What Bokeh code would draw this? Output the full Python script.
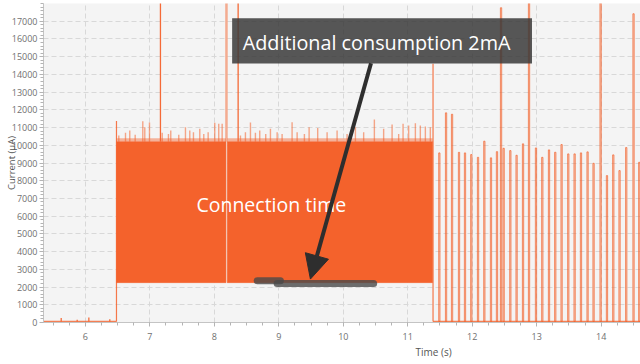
import numpy as np
from bokeh.plotting import figure
from bokeh.models import FixedTicker, Range1d, Title, Arrow, NormalHead, Label
from bokeh.embed import file_html
from bokeh.resources import INLINE

# ---------------- data ----------------
x_ticks = [6, 7, 8, 9, 10, 11, 12, 13, 14]
y_ticks = list(range(0, 18000, 1000))

baseline_uA = 60

pre_spike_t = [5.625, 5.873, 6.053, 6.378]
pre_spike_uA = [250, 150, 280, 190]

rise_t = 6.482
rise_peak_uA = 11370

block_start = [6.482, 8.200]
block_end = [8.180, 11.385]
block_low_uA = [2250, 2250]
block_high_uA = [10200, 10200]
block_noise_top_uA = [10400, 10400]

block_spike_t = [6.518, 6.622, 6.688, 6.772, 6.890, 6.921, 6.994, 7.191, 7.288, 7.324,
                 7.448, 7.552, 7.619, 7.676, 7.774, 7.836, 7.904, 8.006, 8.068, 8.121,
                 8.405, 8.482, 8.560, 8.637, 8.704, 8.797, 8.870, 8.974, 9.051, 9.206,
                 9.284, 9.397, 9.470, 9.603, 9.749, 9.904, 10.059, 10.188, 10.316, 10.482,
                 10.626, 10.757, 10.859, 10.927, 11.014, 11.118, 11.195, 11.273, 11.350]
block_spike_uA = [10550, 10700, 10830, 10590, 11360, 11020, 11280, 10700, 10640, 10830,
                  10590, 11020, 10830, 10730, 10930, 10640, 10730, 11270, 11210, 11210,
                  10550, 10730, 11280, 10700, 10830, 10640, 10930, 10730, 10640, 11300,
                  10730, 10640, 11020, 10980, 10730, 10830, 10640, 11020, 10730, 11450,
                  10930, 11170, 10640, 11210, 11110, 11240, 11110, 11060, 11020]

tall_spike_t = [7.164, 8.369]
tall_spike_uA = [19000, 19000]
pale_spike_t = [8.188]
pale_spike_uA = [19000]

fall_t = 11.392
fall_peak_uA = 14600

post_spike_t = [11.490, 11.594, 11.687, 11.795, 11.888, 11.986, 12.090, 12.188, 12.291, 12.384,
                12.447, 12.487, 12.591, 12.688, 12.788, 12.881, 12.989, 13.087, 13.191, 13.288,
                13.386, 13.490, 13.588, 13.687, 13.789, 13.882, 13.991, 14.090, 14.188, 14.285,
                14.389, 14.502, 14.591]
post_spike_uA = [9570, 11830, 11750, 9600, 9570, 9475, 9320, 10230, 9290, 9640,
                 17760, 9830, 9700, 9435, 10080, 19000, 9850, 9320, 9740, 9605,
                 10040, 9514, 9514, 9571, 9627, 8983, 19000, 8288, 9458, 8571,
                 9870, 17420, 9040]

# annotation anchors (time s, current uA)
note_text = "Additional consumption 2mA"
note_box = dict(left=8.276, right=12.927, bottom=14610, top=17170)
note_text_at = (8.440, 15780)
conn_text = "Connection time"
conn_text_at = (7.722, 6650)
arrow_from = (10.43, 14630)
arrow_to = (9.49, 2451)
mark_a = ([8.664, 9.025], [2355, 2355])
mark_b = ([8.974, 10.471], [2203, 2203])

# ---------------- figure ----------------
X0, X1 = 5.35, 14.61
ORANGE = "#f4622c"
FONT = "Open Sans"

p = figure(width=640, height=364, x_range=Range1d(X0, X1), y_range=Range1d(0, 18000),
           output_backend="svg", toolbar_location=None,
           min_border_left=43, min_border_right=0, min_border_top=3, min_border_bottom=42,
           background_fill_color="#f4f4f4", border_fill_color="white",
           outline_line_color=None)

# axes
p.xaxis.ticker = FixedTicker(ticks=x_ticks, minor_ticks=list(np.arange(5.25, 14.76, 0.25)))
p.yaxis.ticker = FixedTicker(ticks=y_ticks, minor_ticks=list(range(0, 18001, 200)))
for ax in (p.xaxis, p.yaxis):
    ax.axis_line_color = "#c4c4c4"
    ax.major_tick_line_color = "#b4b4b4"
    ax.minor_tick_line_color = "#b4b4b4"
    ax.major_tick_out = 4
    ax.major_tick_in = 0
    ax.minor_tick_out = 3
    ax.minor_tick_in = 0
    ax.major_label_text_font = FONT
    ax.major_label_text_font_size = "9px"
    ax.major_label_text_color = "#707070"
p.xaxis.major_label_standoff = 6
p.yaxis.major_label_standoff = 2
p.yaxis.axis_label = "Current (µA)"
p.yaxis.axis_label_text_font = FONT
p.yaxis.axis_label_text_font_size = "9.5px"
p.yaxis.axis_label_text_font_style = "normal"
p.yaxis.axis_label_text_color = "#555555"
p.yaxis.axis_label_standoff = -9

p.add_layout(Title(text="Time (s)", align="left", offset=372, standoff=0,
                   text_font=FONT, text_font_size="10px", text_font_style="normal",
                   text_color="#555555"), "below")

p.xgrid.grid_line_color = "#d8d8d8"
p.ygrid.grid_line_color = "#d8d8d8"
p.grid.grid_line_dash = "5 3"

# ---------------- trace ----------------
p.segment(x0=[X0, fall_t], y0=[baseline_uA] * 2, x1=[rise_t, X1], y1=[baseline_uA] * 2,
          line_color=ORANGE, line_width=1.5, line_alpha=0.8)
p.segment(x0=pre_spike_t, y0=[baseline_uA] * len(pre_spike_t), x1=pre_spike_t, y1=pre_spike_uA,
          line_color=ORANGE, line_width=1.5, line_alpha=0.8)
p.quad(left=block_start, right=block_end, bottom=block_low_uA, top=block_high_uA,
       fill_color=ORANGE, line_color=ORANGE, line_width=0.5)
p.quad(left=block_start, right=block_end, bottom=block_high_uA, top=block_noise_top_uA,
       fill_color=ORANGE, fill_alpha=0.45, line_color=None)
p.segment(x0=[rise_t, fall_t], y0=[baseline_uA] * 2, x1=[rise_t, fall_t], y1=[rise_peak_uA, fall_peak_uA],
          line_color=ORANGE, line_width=1.2, line_alpha=0.85)
p.segment(x0=block_spike_t, y0=[block_high_uA[0]] * len(block_spike_t), x1=block_spike_t,
          y1=block_spike_uA, line_color=ORANGE, line_width=1.4, line_alpha=0.55)
p.segment(x0=tall_spike_t, y0=[block_high_uA[0]] * len(tall_spike_t), x1=tall_spike_t,
          y1=tall_spike_uA, line_color=ORANGE, line_width=1.3, line_alpha=0.95)
p.segment(x0=pale_spike_t, y0=[block_high_uA[0]] * len(pale_spike_t), x1=pale_spike_t,
          y1=pale_spike_uA, line_color=ORANGE, line_width=2.5, line_alpha=0.5)
half_w = 0.01
p.quad(left=[t - half_w for t in post_spike_t], right=[t + half_w for t in post_spike_t],
       bottom=[baseline_uA] * len(post_spike_t), top=post_spike_uA,
       fill_color=ORANGE, fill_alpha=0.25, line_color=ORANGE, line_alpha=0.7, line_width=1)

# ---------------- annotations ----------------
p.multi_line(xs=[mark_a[0], mark_b[0]], ys=[mark_a[1], mark_b[1]], line_color="#4a4a4a",
             line_alpha=0.8, line_width=7, line_cap="round")
p.quad(left=[note_box["left"]], right=[note_box["right"]], bottom=[note_box["bottom"]],
       top=[note_box["top"]], fill_color="#3a3a3a", fill_alpha=0.85, line_color=None)
p.add_layout(Label(x=note_text_at[0], y=note_text_at[1], text=note_text, text_font=FONT,
                   text_font_size="19.8px", text_color="white", text_baseline="alphabetic"))
p.add_layout(Label(x=conn_text_at[0], y=conn_text_at[1], text=conn_text, text_font=FONT,
                   text_font_size="19.5px", text_color="white", text_baseline="alphabetic"))
p.add_layout(Arrow(end=NormalHead(size=24, fill_color="#2e2e2e", line_color="#2e2e2e"),
                   x_start=arrow_from[0], y_start=arrow_from[1], x_end=arrow_to[0], y_end=arrow_to[1],
                   line_width=4, line_color="#2e2e2e"))

open("out.html", "w").write(file_html(p, INLINE))
